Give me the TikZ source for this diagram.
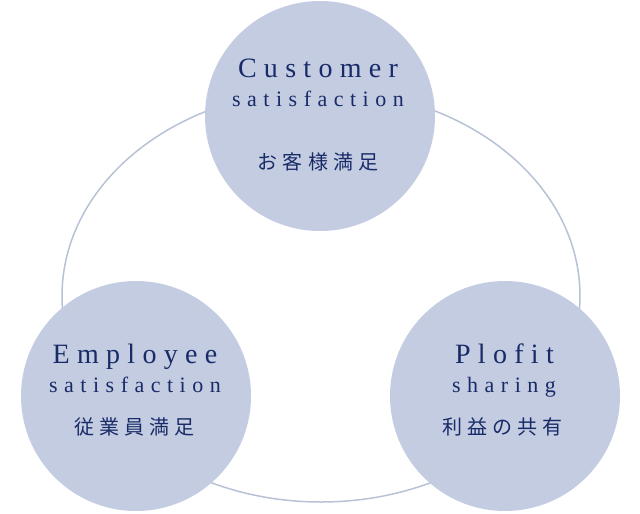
\documentclass[tikz,border=0pt]{standalone}
\usepackage{fontspec}
\setmainfont{Liberation Serif}
\newfontfamily\jpfont{Noto Sans CJK JP}
\definecolor{bub}{HTML}{C4CCE1}
\definecolor{inkc}{HTML}{182B68}
\definecolor{ringc}{HTML}{B8C2D6}
\def\lspend{LSPEND}
\newcommand\lsp[2]{\def\lspgap{#1}\lspx#2\lspend}
\def\lspx#1{\ifx#1\lspend\else#1\expandafter\lspy\fi}
\def\lspy#1{\ifx#1\lspend\else\kern\lspgap#1\expandafter\lspy\fi}
\begin{document}
\begin{tikzpicture}[x=1pt,y=-1pt,
  bubble/.style={circle,fill=bub,minimum size=230pt,inner sep=0pt},
  ttl/.style={anchor=base,text=inkc,inner sep=0pt,font=\fontsize{28}{30}\selectfont},
  sub/.style={anchor=base,text=inkc,inner sep=0pt,font=\fontsize{22}{24}\selectfont},
  jpn/.style={anchor=center,text=inkc,inner sep=0pt,font=\jpfont\fontsize{20}{22}\selectfont}]
\useasboundingbox (0,0) rectangle (640,514);
\draw[ringc,line width=1.5pt] (321,296) ellipse [x radius=259pt, y radius=206pt];
\node[bubble] (top) at (320,116) {};
\node[bubble] (left) at (136,396) {};
\node[bubble] (right) at (505,396) {};
\node[ttl] (t1) at (318,77) {\lsp{7.3pt}{Customer}};
\node[sub] (t2) at (318,106) {\lsp{6.5pt}{satisfaction}};
\node[jpn] (t3) at (318,162) {\lsp{5.2pt}{お客様満足}};
\node[ttl] (l1) at (135,363) {\lsp{7.3pt}{Employee}};
\node[sub] (l2) at (135,392) {\lsp{6.5pt}{satisfaction}};
\node[jpn] (l3) at (134.5,427) {\lsp{5.2pt}{従業員満足}};
\node[ttl] (r1) at (504.5,363) {\lsp{7.3pt}{Plofit}};
\node[sub] (r2) at (504,392) {\lsp{6.5pt}{sharing}};
\node[jpn] (r3) at (502.5,427) {\lsp{5.2pt}{利益の共有}};
\end{tikzpicture}
\end{document}
